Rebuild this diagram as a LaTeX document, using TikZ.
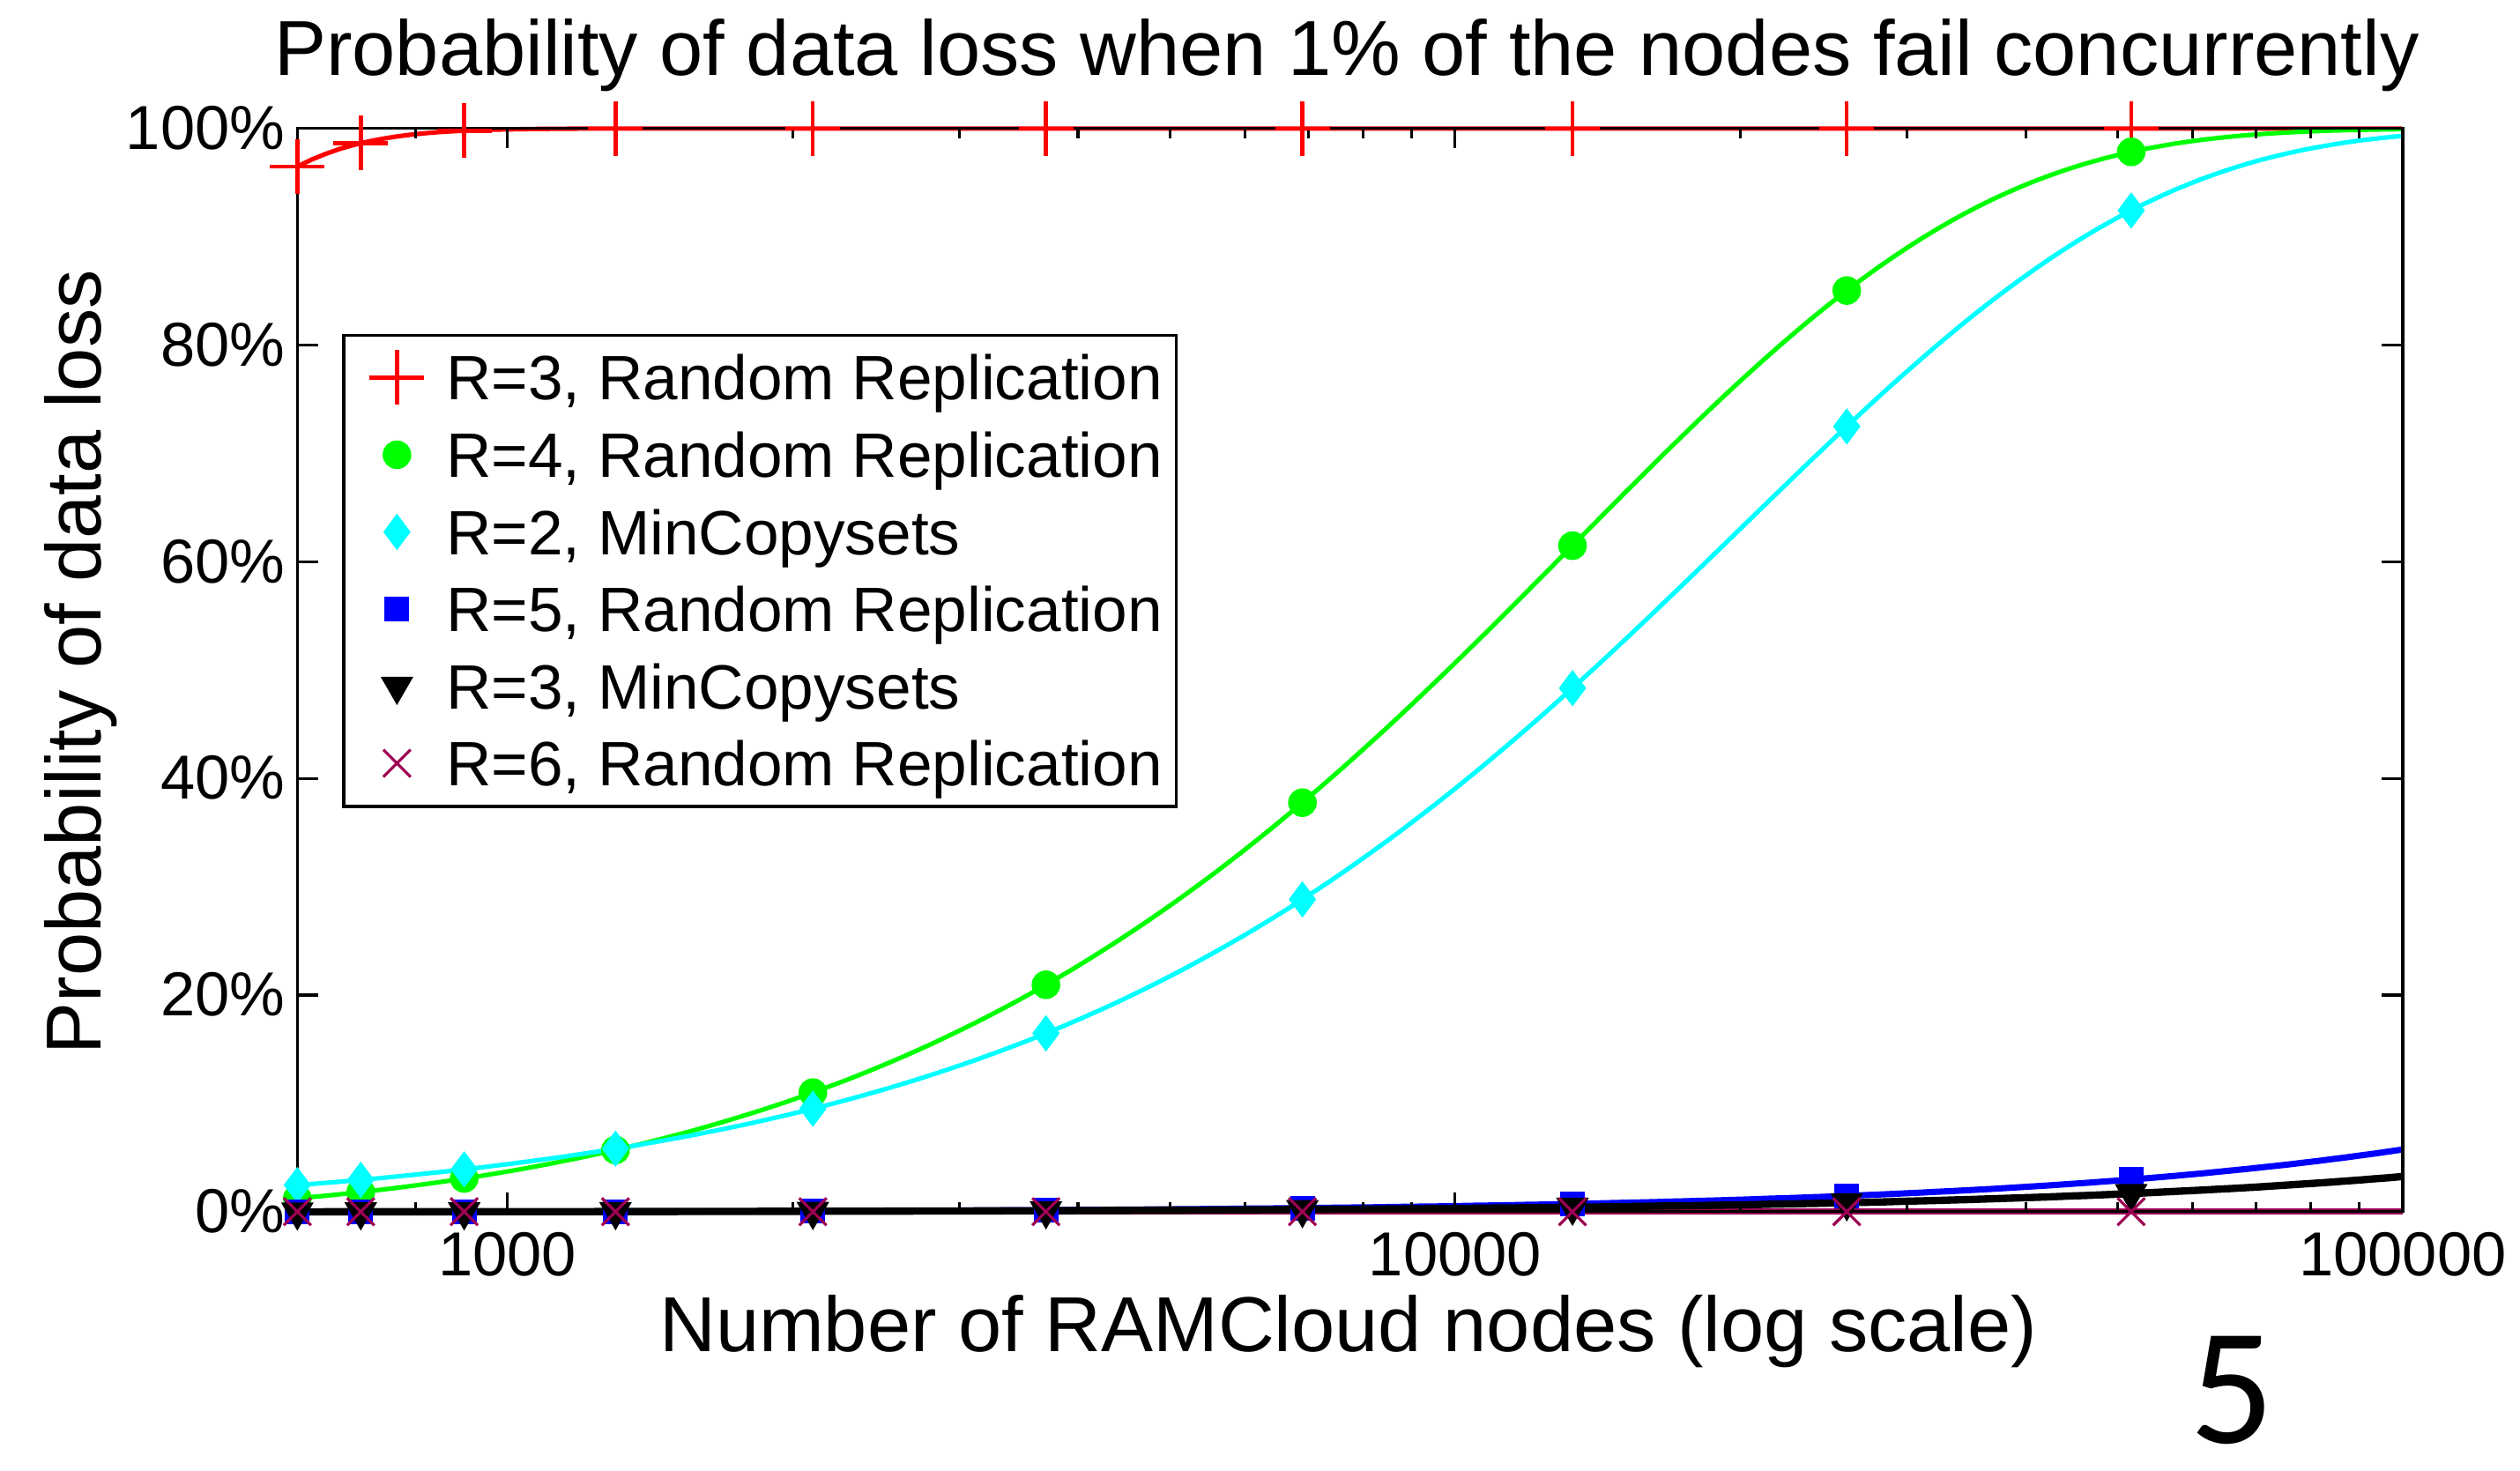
\documentclass[tikz,border=0pt]{standalone}
\usepackage{fontspec}
\setmainfont{Liberation Sans}
\newfontfamily\pagefont{Carlito}
\usetikzlibrary{plotmarks}

\definecolor{rthreecol}{rgb}{1,0,0}
\definecolor{rfourcol}{rgb}{0,1,0}
\definecolor{mtwocol}{rgb}{0,1,1}
\definecolor{rfivecol}{rgb}{0,0,1}
\definecolor{rsixcol}{rgb}{0.62,0,0.33}

\tikzset{
  axisline/.style={line width=0.5pt,black},
  ticklabel/.style={font=\fontsize{11}{13}\selectfont,inner sep=0pt},
  axislabel/.style={font=\fontsize{13.8}{16}\selectfont,inner sep=0pt},
  legtext/.style={font=\fontsize{11.1}{13}\selectfont,anchor=base west,inner sep=0pt},
  rthree/.style={rthreecol,line width=0.8pt},
  rfour/.style={rfourcol,line width=0.8pt},
  mtwo/.style={mtwocol,line width=0.8pt},
  rfive/.style={rfivecol,line width=1.1pt},
  mthree/.style={black,line width=1.3pt},
  rsix/.style={rsixcol,line width=1.1pt},
  rthreemk/.style={rthree,only marks,mark=+,mark size=0.17cm,line width=0.7pt},
  rfourmk/.style={rfour,only marks,mark=*,mark size=0.075cm},
  mtwomk/.style={mtwo,only marks,mark=diamond*,mark size=0.09cm},
  rfivemk/.style={rfive,only marks,mark=square*,mark size=0.068cm,line width=0.5pt},
  mthreemk/.style={mthree,only marks,mark=triangle*,mark size=0.1cm,mark options={rotate=180},line width=0.5pt},
  rsixmk/.style={rsix,only marks,mark=x,mark size=0.12cm,line width=0.5pt},
  nodemarks/.style={samples at={2.77815,2.84510,2.95424,3.11394,3.32222,3.56820,3.83885,4.12385,4.41330,4.71349}},
  declare function={
    qq(\uu,\jj)=(\uu-\jj)/(\uu-\jj/100);
    pthreer(\uu)=100*(1-exp(-min(\uu*qq(\uu,1)*qq(\uu,2),12)));
    pfourr(\uu)=100*(1-exp(-0.0075*\uu*qq(\uu,1)*qq(\uu,2)*qq(\uu,3)));
    pfiver(\uu)=100*(1-exp(-0.006*\uu*qq(\uu,1)*qq(\uu,2)*qq(\uu,3)*qq(\uu,4)/100));
    ptwom(\uu)=100*(1-exp(-0.005*\uu*qq(\uu,1)));
    pthreem(\uu)=100*(1-exp(-\uu*qq(\uu,1)*qq(\uu,2)/300/100));
  }
}

\begin{document}
\begin{tikzpicture}
  \useasboundingbox (0,0) rectangle (15.68,9.15);
  \node[axislabel,anchor=base] (title) at (8.38,8.68)
    {Probability of data loss when 1\% of the nodes fail concurrently};
  \node[axislabel,anchor=base] (xlabel) at (8.39,0.74) {Number of RAMCloud nodes (log scale)};
  \node[axislabel,anchor=base,rotate=90] (ylabel) at (0.63,5.03) {Probability of data loss};
  \node[font=\pagefont\fontsize{29.5}{32}\selectfont,anchor=base,inner sep=0pt] (pagenum) at (13.89,0.17) {5};

  \begin{scope}[shift={(-14.530,1.61)},x=5.896cm,y=0.0674cm]
    % curves
    \draw[rthree] plot[domain=2.778151:5,samples=150] (\x,{pthreer(pow(10,\x-2))});
    \draw[rfour] plot[domain=2.778151:5,samples=150] (\x,{pfourr(pow(10,\x-2))});
    \draw[mtwo] plot[domain=2.778151:5,samples=150] (\x,{ptwom(pow(10,\x-2))});
    \draw[rsix] (2.778151,0) -- (5,0);
    \draw[rfive] plot[domain=2.778151:5,samples=150] (\x,{pfiver(pow(10,\x-2))});
    \draw[mthree] plot[domain=2.778151:3.9,samples=60] (\x,{pthreem(pow(10,\x-2))});
    \draw[mthree] plot[domain=3.9:5,samples=80] (\x,{pthreem(pow(10,\x-2))});

    % ticks
    \begin{scope}
      \clip (2.778151,0) rectangle (5,100);
      \foreach \d in {2,3,4}
        \foreach \m in {2,...,9} {
          \pgfmathsetmacro\tv{\d+ln(\m)/ln(10)}
          \draw[axisline] (\tv,0) -- ++(0,0.06cm);
          \draw[axisline] (\tv,100) -- ++(0,-0.06cm);
        }
    \end{scope}
    \foreach \d in {3,4} {
      \draw[axisline] (\d,0) -- ++(0,0.12cm);
      \draw[axisline] (\d,100) -- ++(0,-0.12cm);
    }
    \foreach \p in {20,40,...,80} {
      \draw[axisline] (2.778151,\p) -- ++(0.13cm,0);
      \draw[axisline] (5,\p) -- ++(-0.13cm,0);
    }
    \draw[axisline] (2.778151,0) rectangle (5,100);
    \foreach \p in {0,20,...,100}
      \node[ticklabel,anchor=base east,xshift=-0.07cm,yshift=-0.13cm] (yt\p) at (2.778151,\p) {\p\%};
    \foreach \d/\lab in {3/1000,4/10000,5/100000}
      \node[ticklabel,anchor=base,yshift=-0.40cm] (xt\d) at (\d,0) {\lab};

    % markers
    \draw[rthreemk,nodemarks] plot (\x,{pthreer(pow(10,\x-2))});
    \draw[rfourmk,nodemarks] plot (\x,{pfourr(pow(10,\x-2))});
    \draw[mtwomk,nodemarks] plot (\x,{ptwom(pow(10,\x-2))});
    \draw[rfivemk,nodemarks] plot (\x,{pfiver(pow(10,\x-2))});
    \draw[mthreemk,nodemarks] plot (\x,{pthreem(pow(10,\x-2))});
    \draw[rsixmk,nodemarks] plot (\x,0);
  \end{scope}

  % legend
  \node[draw,line width=0.5pt,anchor=north west,minimum width=5.18cm,minimum height=2.93cm,inner sep=0pt]
    (legend) at (2.13,7.07) {};
  \draw[rthreemk] plot coordinates {(2.47,6.80)};
  \draw[rfourmk] plot coordinates {(2.47,6.32)};
  \draw[mtwomk] plot coordinates {(2.47,5.84)};
  \draw[rfivemk] plot coordinates {(2.47,5.36)};
  \draw[mthreemk] plot coordinates {(2.47,4.88)};
  \draw[rsixmk] plot coordinates {(2.47,4.40)};
  \node[legtext] (leg1) at (2.77,6.66) {R=3, Random Replication};
  \node[legtext] (leg2) at (2.77,6.18) {R=4, Random Replication};
  \node[legtext] (leg3) at (2.77,5.70) {R=2, MinCopysets};
  \node[legtext] (leg4) at (2.77,5.22) {R=5, Random Replication};
  \node[legtext] (leg5) at (2.77,4.74) {R=3, MinCopysets};
  \node[legtext] (leg6) at (2.77,4.26) {R=6, Random Replication};
\end{tikzpicture}
\end{document}
